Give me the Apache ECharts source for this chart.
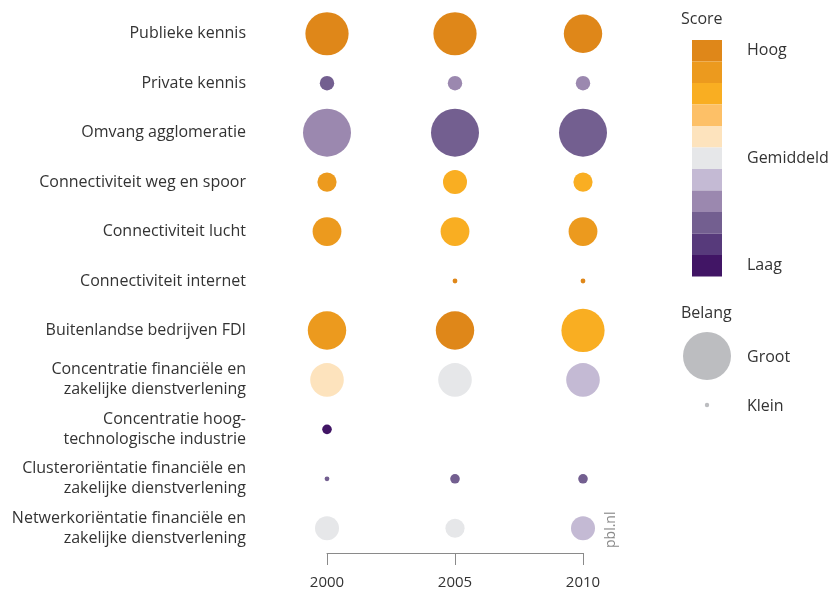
<!DOCTYPE html>
<html>
<head>
<meta charset="utf-8">
<script src="https://cdn.jsdelivr.net/npm/echarts@6/dist/echarts.min.js"></script>
<style>
  html, body { margin: 0; padding: 0; background: #fff; }
  #main { width: 832px; height: 592px; }
</style>
</head>
<body>
<div id="main"></div>
<script>
  // indicatoren (van boven naar beneden)
  var categories = [
    'Publieke kennis',
    'Private kennis',
    'Omvang agglomeratie',
    'Connectiviteit weg en spoor',
    'Connectiviteit lucht',
    'Connectiviteit internet',
    'Buitenlandse bedrijven FDI',
    'Concentratie financiële en\nzakelijke dienstverlening',
    'Concentratie hoog-\ntechnologische industrie',
    'Clusteroriëntatie financiële en\nzakelijke dienstverlening',
    'Netwerkoriëntatie financiële en\nzakelijke dienstverlening'
  ]
  var years = [2000, 2005, 2010]

  // score: -5 (laag) .. 0 (gemiddeld) .. 5 (hoog)
  var score2000 = [5, -3, -2, 4, 4, null, 4, 1, -5, -3, 0]
  var score2005 = [5, -2, -3, 3, 3, 5, 5, 0, null, -3, 0]
  var score2010 = [5, -2, -3, 3, 4, 5, 3, -1, null, -3, -1]

  // belang: 0 (geen) .. 10 (groot)
  var belang2000 = [9, 3, 10, 4, 6, 0, 8, 7, 2, 1, 5]
  var belang2005 = [9, 3, 10, 5, 6, 1, 8, 7, 0, 2, 4]
  var belang2010 = [8, 3, 10, 4, 6, 1, 9, 7, 0, 2, 5]

  var scoreColors = ['#411565', '#573a7b', '#735f90', '#9b88af', '#c4bad4', '#e6e7e9',
    '#fde3bd', '#fdc067', '#f9ae22', '#ec9a1e', '#df8719']
  var scoreLabels = { '5': 'Hoog', '0': 'Gemiddeld', '-5': 'Laag' }

  var scores = [score2000, score2005, score2010]
  var belang = [belang2000, belang2005, belang2010]

  var points = []
  years.forEach(function (yr, i) {
    categories.forEach(function (c, j) {
      if (belang[i][j] > 0) {
        points.push([yr, j, belang[i][j], scores[i][j]])
      }
    })
  })

  var pieces = []
  for (var s = 5; s >= -5; s--) {
    pieces.push({ value: s, color: scoreColors[s + 5], label: scoreLabels[String(s)] || ' ' })
  }

  var font = 'Open Sans, Noto Sans, sans-serif'
  var textColor = '#333'

  var option = {
    backgroundColor: '#fff',
    animation: false,
    textStyle: { fontFamily: font },
    grid: { left: 327, right: 249, top: 9, bottom: 39, containLabel: false },
    xAxis: {
      type: 'value',
      min: 2000,
      max: 2010,
      interval: 5,
      splitLine: { show: false },
      axisLine: { show: true, lineStyle: { color: '#8a8a8a', width: 1 } },
      axisTick: { show: true, length: 12, lineStyle: { color: '#8a8a8a' } },
      axisLabel: {
        color: textColor, fontSize: 15, margin: 22, fontFamily: font,
        formatter: function (v) { return String(v) }
      }
    },
    yAxis: {
      type: 'category',
      inverse: true,
      data: categories,
      axisLine: { show: false },
      axisTick: { show: false },
      splitLine: { show: false },
      axisLabel: { color: textColor, fontSize: 16, margin: 81, lineHeight: 20, fontFamily: font }
    },
    visualMap: {
      type: 'piecewise',
      dimension: 3,
      seriesIndex: 0,
      pieces: pieces,
      orient: 'vertical',
      align: 'left',
      padding: 0,
      left: 692,
      top: 40,
      itemWidth: 30,
      itemHeight: 21.5,
      itemGap: 0,
      itemSymbol: 'rect',
      textGap: 25,
      selectedMode: false,
      hoverLink: false,
      textStyle: { color: textColor, fontSize: 16, fontFamily: font }
    },
    graphic: [
      { type: 'text', left: 681, top: 11, style: { text: 'Score', fill: textColor, font: '16px ' + font } },
      { type: 'text', left: 681, top: 305, style: { text: 'Belang', fill: textColor, font: '16px ' + font } },
      { type: 'circle', shape: { cx: 707, cy: 356, r: 24 }, style: { fill: '#bcbdc0' } },
      { type: 'circle', shape: { cx: 707, cy: 405, r: 2.2 }, style: { fill: '#bcbdc0' } },
      { type: 'text', left: 747, top: 349, style: { text: 'Groot', fill: textColor, font: '16px ' + font } },
      { type: 'text', left: 747, top: 398, style: { text: 'Klein', fill: textColor, font: '16px ' + font } },
      {
        type: 'text', x: 604, y: 548, rotation: Math.PI / 2,
        style: { text: 'pbl.nl', fill: '#8a8a8a', font: '14px ' + font }
      }
    ],
    series: [{
      type: 'scatter',
      clip: false,
      data: points,
      symbolSize: function (val) {
        return val[2] * 4.8
      },
      itemStyle: { opacity: 1 }
    }]
  }

  var chart = echarts.init(document.getElementById('main'))
  chart.setOption(option)
  window.addEventListener('resize', function () {
    chart.resize()
  })
</script>
</body>
</html>
